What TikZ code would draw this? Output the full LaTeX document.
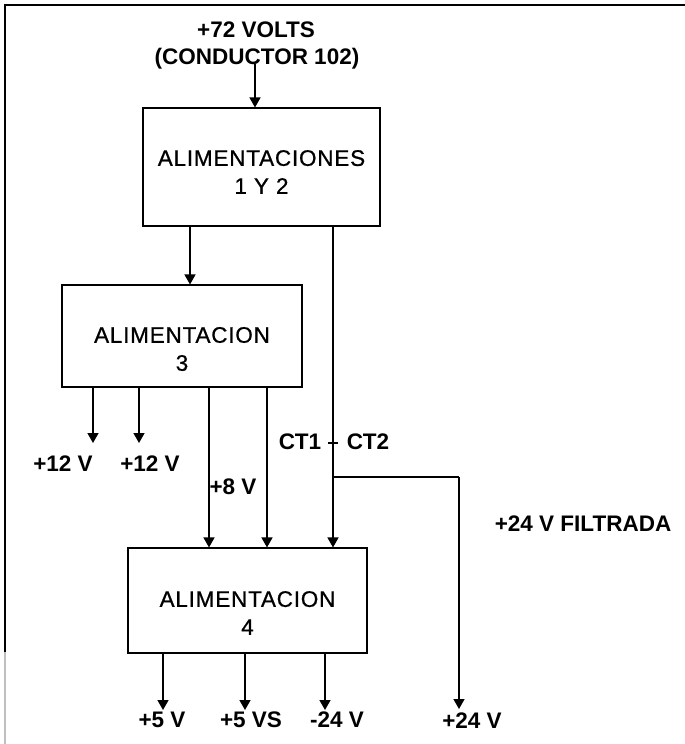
\documentclass[tikz,border=0pt]{standalone}
\usepackage{fontspec}
\setmainfont{Liberation Sans}
\newfontfamily\boxfont[LetterSpace=3.5,FakeBold=0.8]{Liberation Sans}
\usetikzlibrary{arrows.meta}
\begin{document}
\begin{tikzpicture}[x=1pt,y=-1pt,
  box/.style={draw, line width=1.1pt, inner sep=0pt},
  boxtext/.style={align=center, inner sep=0pt, font=\boxfont\fontsize{22.5}{28}\selectfont},
  lbl/.style={inner sep=0pt, font=\fontsize{22.5}{27}\selectfont\bfseries},
  wire/.style={line width=1.4pt},
  arr/.style={line width=1.4pt, -{Triangle[length=10pt,width=11pt]}}]
\useasboundingbox (0,0) rectangle (685,744);
% frame
\draw[line width=1.2pt] (685,5) -- (5,5) -- (5,652);
\draw[line width=1.2pt, black!25] (5,652) -- (5,744);
% boxes
\node[box, minimum width=237pt, minimum height=118pt] (b1) at (261.5,167) {};
\node[boxtext] (t1) at (261.5,172) {ALIMENTACIONES\\1 Y 2};
\node[box, minimum width=240pt, minimum height=102pt] (b2) at (182,336) {};
\node[boxtext] (t2) at (182,349) {ALIMENTACION\\3};
\node[box, minimum width=239pt, minimum height=105pt] (b3) at (247.5,600.5) {};
\node[boxtext] (t3) at (247.5,613) {ALIMENTACION\\4};
% input
\node[lbl] (v72) at (256,30) {+72 VOLTS};
\node[lbl] (cond) at (257,59) {(CONDUCTOR 102)};
\coordinate (in72) at (255,64);
\draw[arr] (in72) -- (in72 |- b1.north);
% box1 -> box2
\coordinate (a1) at (190,226);
\draw[arr] (a1) -- (a1 |- b2.north);
% box1 -> box3 (CT line)
\coordinate (a2) at (333,226);
\draw[arr] (a2) -- (a2 |- b3.north);
\coordinate (tk1) at (328,443);
\coordinate (tk2) at (338,443);
\draw[line width=1.1pt] (tk1) -- (tk2);
\node[lbl] (ct1) at (300,442) {CT1};
\node[lbl] (ct2) at (368,442) {CT2};
% +24 V filtrada branch
\coordinate (br) at (333,477);
\coordinate (brc) at (459,477);
\coordinate (o24) at (459,709);
\draw[wire] (br) -- (brc);
\draw[arr] (brc) -- (o24);
\node[lbl] (filt) at (583,524) {+24 V FILTRADA};
\node[lbl] (p24) at (472,721) {+24 V};
% box2 outputs
\coordinate (c1) at (93,387);
\coordinate (c2) at (139,387);
\draw[arr] (c1) -- (93,443);
\draw[arr] (c2) -- (139,443);
\node[lbl] (p12a) at (63,464) {+12 V};
\node[lbl] (p12b) at (150,464) {+12 V};
\coordinate (c3) at (209,387);
\coordinate (c4) at (267,387);
\draw[arr] (c3) -- (c3 |- b3.north);
\draw[arr] (c4) -- (c4 |- b3.north);
\node[lbl] (p8) at (233,487) {+8 V};
% box3 outputs
\coordinate (d1) at (163,653);
\coordinate (d2) at (245,653);
\coordinate (d3) at (325,653);
\draw[arr] (d1) -- (163,710);
\draw[arr] (d2) -- (245,710);
\draw[arr] (d3) -- (325,710);
\node[lbl] (p5) at (162,720) {+5 V};
\node[lbl] (p5s) at (251,720) {+5 VS};
\node[lbl] (m24) at (337,720) {-24 V};
\end{tikzpicture}
\end{document}
